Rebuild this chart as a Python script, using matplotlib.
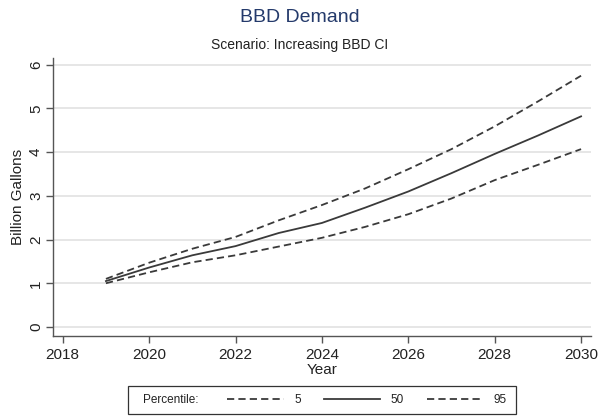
import matplotlib
matplotlib.use("Agg")
import matplotlib.pyplot as plt
from matplotlib.patches import Rectangle

plt.rcParams["font.family"] = ["Liberation Sans", "DejaVu Sans"]

# BBD demand projections (billion gallons) by percentile
years = [2019, 2020, 2021, 2022, 2023, 2024, 2025, 2026, 2027, 2028, 2029, 2030]
p5 = [1.00, 1.25, 1.48, 1.64, 1.84, 2.04, 2.29, 2.58, 2.94, 3.36, 3.71, 4.07]
p50 = [1.05, 1.36, 1.64, 1.85, 2.15, 2.38, 2.73, 3.10, 3.52, 3.96, 4.38, 4.82]
p95 = [1.10, 1.47, 1.79, 2.06, 2.44, 2.79, 3.17, 3.61, 4.07, 4.59, 5.16, 5.75]
percentile_labels = ["5", "50", "95"]

x_ticks = [2018, 2020, 2022, 2024, 2026, 2028, 2030]
y_ticks = [0, 1, 2, 3, 4, 5, 6]

line_color = "#3a3a3a"
dash = (0, (4, 2.3))

fig = plt.figure(figsize=(6.0, 4.16), dpi=100)
ax = fig.add_axes([0.088, 0.192, 0.897, 0.668])

ax.plot(years, p5, color=line_color, lw=1.3, linestyle=dash)
ax.plot(years, p50, color=line_color, lw=1.3)
ax.plot(years, p95, color=line_color, lw=1.3, linestyle=dash)

ax.set_xlim(2017.77, 2030.23)
ax.set_ylim(-0.21, 6.15)
ax.set_xticks(x_ticks)
ax.set_yticks(y_ticks)
ax.set_yticklabels([str(v) for v in y_ticks], rotation=90, va="center")
ax.tick_params(axis="both", direction="out", length=5, width=1,
               color="#555555", labelsize=11, labelcolor="#222222")
ax.tick_params(axis="y", pad=2)

ax.grid(axis="y", color="#e2e2e2", lw=1.2)
ax.set_axisbelow(True)
for side in ["top", "right"]:
    ax.spines[side].set_visible(False)
for side in ["left", "bottom"]:
    ax.spines[side].set_color("#555555")
    ax.spines[side].set_linewidth(1)

ax.set_xlabel("Year", fontsize=11, color="#222222", labelpad=1)
ax.set_ylabel("Billion Gallons", fontsize=11, color="#222222", labelpad=3)

fig.text(0.5, 0.957, "BBD Demand", ha="center", va="center",
         fontsize=14, color="#243a6b")
fig.text(0.5, 0.892, "Scenario: Increasing BBD CI", ha="center", va="center",
         fontsize=10, color="#222222")

# legend strip below the plot
fig.add_artist(Rectangle((0.213, 0.005), 0.647, 0.068, transform=fig.transFigure,
                         fill=False, edgecolor="#333333", lw=0.9))
fig.text(0.238, 0.039, "Percentile:", ha="left", va="center",
         fontsize=8.5, color="#222222")
handles = ax.get_lines()
fig.legend(handles, percentile_labels, loc="center left",
           bbox_to_anchor=(0.375, 0.039), ncol=3, frameon=False,
           fontsize=8.5, handlelength=4.8, handletextpad=0.85,
           columnspacing=1.95, labelcolor="#222222",
           borderpad=0.2, borderaxespad=0)

fig.savefig("out.png", dpi=100)
